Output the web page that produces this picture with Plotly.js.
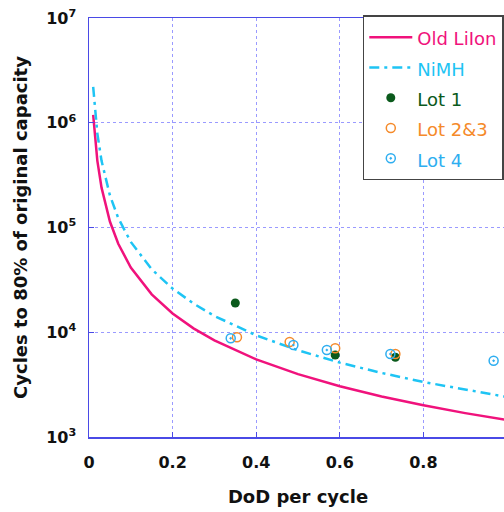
<!DOCTYPE html>
<html><head><meta charset="utf-8">
<script src="https://cdn.plot.ly/plotly-3.0.1.min.js"></script>
<style>html,body{margin:0;padding:0;overflow:hidden;background:#fff;width:504px;height:512px}</style>
</head><body>
<div id="chart"></div>
<script>
// Curves
const dod = [0.01, 0.02, 0.03, 0.05, 0.07, 0.1, 0.15, 0.2, 0.25, 0.3, 0.4, 0.5, 0.6, 0.7, 0.8, 0.9, 1.0];
const oldLiIon = [1.19e6, 4.33e5, 2.40e5, 1.14e5, 6.99e4, 4.15e4, 2.30e4, 1.51e4, 1.09e4, 8.38e3, 5.51e3, 3.98e3, 3.05e3, 2.44e3, 2.01e3, 1.69e3, 1.45e3];
const nimh = [2.20e6, 7.88e5, 4.33e5, 2.03e5, 1.23e5, 7.28e4, 3.99e4, 2.61e4, 1.88e4, 1.43e4, 9.35e3, 6.72e3, 5.13e3, 4.09e3, 3.35e3, 2.82e3, 2.41e3];
// Measured lots
const lot1X = [0.35, 0.589, 0.733];
const lot1Y = [1.9e4, 6.07e3, 5.77e3];
const lot23X = [0.354, 0.48, 0.589, 0.733];
const lot23Y = [8.96e3, 8.07e3, 7.03e3, 6.2e3];
const lot4X = [0.339, 0.489, 0.569, 0.721, 0.968];
const lot4Y = [8.75e3, 7.55e3, 6.76e3, 6.2e3, 5.35e3];
const yTickVals = [1e3, 1e4, 1e5, 1e6, 1e7];
const yTickText = ['10<sup>3</sup>', '10<sup>4</sup>', '10<sup>5</sup>', '10<sup>6</sup>', '10<sup>7</sup>'];
const xTickVals = [0, 0.2, 0.4, 0.6, 0.8, 1];
const xTickText = ['0', '0.2', '0.4', '0.6', '0.8', '1'];

const cPink = '#f0127c', cCyan = '#1ec4f4', cGreen = '#0b5a1c', cOrange = '#f58a2a', cBlue = '#2eaef0';
function nm(t, c) { return '<span style="color:' + c + ';font-size:18px">' + t + '</span>'; }

const traces = [
  {x: dod, y: oldLiIon, mode: 'lines', name: nm('Old LiIon', cPink), line: {color: cPink, width: 2.5}},
  {x: dod, y: nimh, mode: 'lines', name: nm('NiMH', cCyan), line: {color: cCyan, width: 2.5, dash: '10px,5px,3px,5px'}},
  {x: lot1X, y: lot1Y, mode: 'markers', name: nm('Lot 1', cGreen), marker: {symbol: 'circle', size: 9, color: cGreen}},
  {x: lot23X, y: lot23Y, mode: 'markers', name: nm('Lot 2&amp;3', cOrange), marker: {symbol: 'circle-open', size: 9, color: cOrange, line: {width: 1.5}}},
  {x: lot4X, y: lot4Y, mode: 'markers', name: nm('Lot 4', cBlue), marker: {symbol: 'circle-open-dot', size: 9, color: cBlue, line: {width: 1.5}}}
];

const fam = 'DejaVu Sans, Arial, sans-serif';
const axisColor = '#4a4ae6', gridColor = '#9a9aff';
const layout = {
  width: 510, height: 512,
  margin: {l: 89, r: 3, t: 18, b: 75},
  paper_bgcolor: '#fff', plot_bgcolor: '#fff',
  font: {family: fam, size: 16, color: '#111'},
  showlegend: true,
  legend: {x: 0.655, y: 1.006, xanchor: 'left', yanchor: 'top', bgcolor: '#fff', bordercolor: '#444', borderwidth: 1.5,
           itemwidth: 43, font: {size: 21, family: fam}},
  xaxis: {range: [0, 1], tickvals: xTickVals, ticktext: xTickText, showline: true, linecolor: axisColor, linewidth: 1.5, mirror: true,
          showgrid: true, gridcolor: gridColor, griddash: 'dot', gridwidth: 1, ticks: 'inside', ticklen: 5, tickcolor: axisColor,
          zeroline: false, tickfont: {size: 16, weight: 'bold'}, ticklabelstandoff: 10,
          title: {text: 'DoD per cycle', font: {size: 18, weight: 'bold'}, standoff: 19}},
  yaxis: {type: 'log', range: [3, 7], tickvals: yTickVals, ticktext: yTickText, showline: true, linecolor: axisColor, linewidth: 1.5, mirror: true,
          showgrid: true, gridcolor: gridColor, griddash: 'dot', gridwidth: 1, ticks: 'inside', ticklen: 5, tickcolor: axisColor,
          zeroline: false, tickfont: {size: 16, weight: 'bold'}, ticklabelstandoff: 8,
          title: {text: 'Cycles to 80% of original capacity', font: {size: 18, weight: 'bold'}, standoff: 14}}
};
Plotly.newPlot('chart', traces, layout, {displayModeBar: false, staticPlot: true});
</script>
</body></html>
